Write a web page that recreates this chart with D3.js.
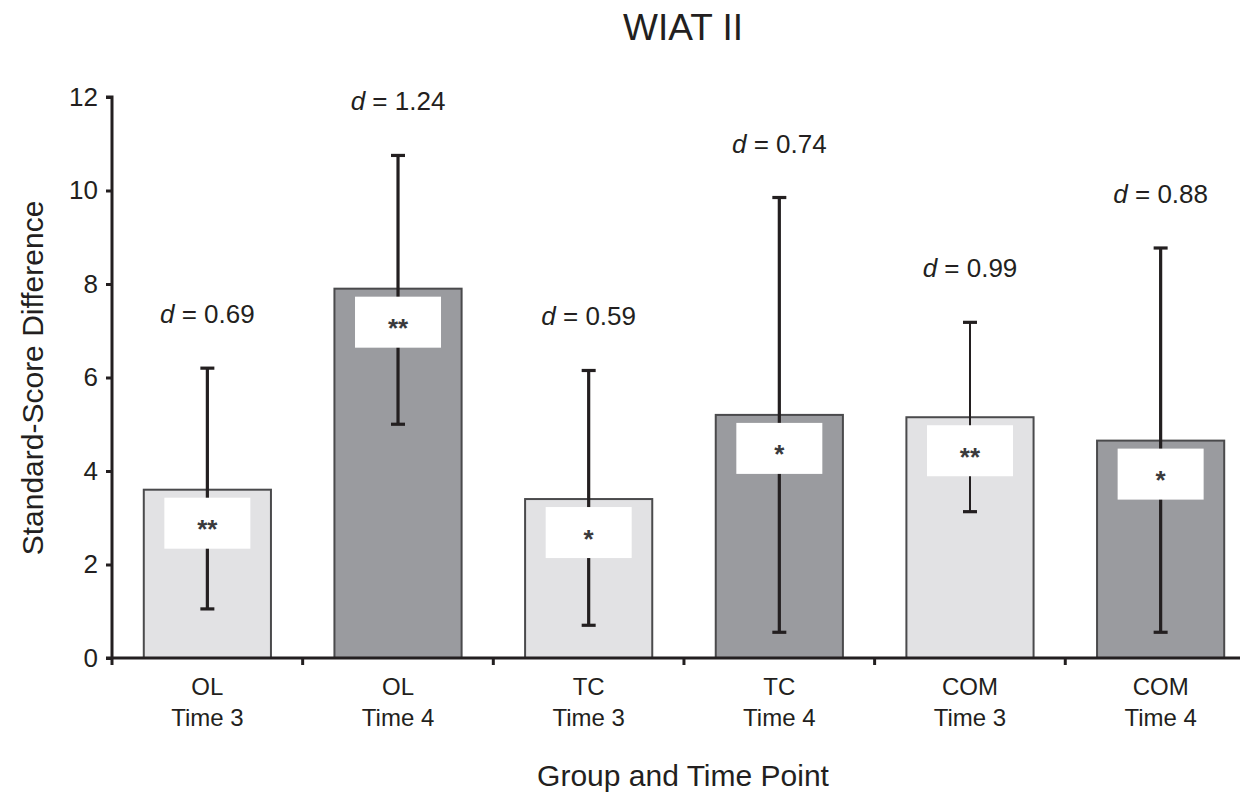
<!DOCTYPE html>
<html>
<head>
<meta charset="utf-8">
<script src="https://cdn.jsdelivr.net/npm/d3@7/dist/d3.min.js"></script>
<style>
  html, body { margin: 0; padding: 0; background: #fff; }
  svg { display: block; font-family: "Liberation Sans", Arial, sans-serif; }
</style>
</head>
<body>
<svg id="chart" width="1240" height="793"></svg>
<script>
// ---- data ----
const groups = ["OL", "OL", "TC", "TC", "COM", "COM"];
const times = ["Time 3", "Time 4", "Time 3", "Time 4", "Time 3", "Time 4"];
const means = [3.6, 7.9, 3.4, 5.2, 5.15, 4.65];
const errLow = [1.05, 5.0, 0.7, 0.55, 3.13, 0.55];
const errHigh = [6.2, 10.75, 6.15, 9.85, 7.18, 8.77];
const dValues = ["0.69", "1.24", "0.59", "0.74", "0.99", "0.88"];
const significance = ["**", "**", "*", "*", "**", "*"];
const yTicks = [0, 2, 4, 6, 8, 10, 12];

(function () {
const rows = means.map((m, i) => ({
  key: i, group: groups[i], time: times[i], mean: m,
  lo: errLow[i], hi: errHigh[i], d: dValues[i], sig: significance[i]
}));

// ---- layout ----
const svg = d3.select("#chart");
const plotLeft = 112, plotRight = 1256, plotTop = 97, plotBottom = 658;

const x = d3.scaleBand().domain(rows.map(r => r.key)).range([plotLeft, plotRight])
  .paddingInner(0.333).paddingOuter(0.1667);
const y = d3.scaleLinear().domain([0, 12]).range([plotBottom, plotTop]);

const ink = "#231f20";
const lightFill = "#e2e2e4", darkFill = "#9a9b9f";

// title
svg.append("text").attr("x", 683).attr("y", 40).attr("text-anchor", "middle")
  .attr("font-size", 37).attr("fill", ink).text("WIAT II");

// bars
const g = svg.append("g");
g.selectAll("rect.bar").data(rows).join("rect").attr("class", "bar")
  .attr("x", d => x(d.key)).attr("width", x.bandwidth())
  .attr("y", d => y(d.mean)).attr("height", d => y(0) - y(d.mean))
  .attr("fill", d => d.time === "Time 3" ? lightFill : darkFill)
  .attr("stroke", "#4a4a4c").attr("stroke-width", 2);

// error bars
const cx = d => x(d.key) + x.bandwidth() / 2;
const ew = d => d.key === 4 ? 2 : 3.2;
g.selectAll("line.err").data(rows).join("line").attr("class", "err")
  .attr("x1", cx).attr("x2", cx).attr("y1", d => y(d.lo)).attr("y2", d => y(d.hi))
  .attr("stroke", ink).attr("stroke-width", ew);
["lo", "hi"].forEach(k => {
  g.selectAll("line.cap" + k).data(rows).join("line").attr("class", "cap" + k)
    .attr("x1", d => cx(d) - 7).attr("x2", d => cx(d) + 7)
    .attr("y1", d => y(d[k])).attr("y2", d => y(d[k]))
    .attr("stroke", ink).attr("stroke-width", 3.2);
});

// white boxes with significance stars
const boxW = 86, boxH = 51;
g.selectAll("rect.box").data(rows).join("rect").attr("class", "box")
  .attr("x", d => cx(d) - boxW / 2).attr("y", d => y(d.mean) + 8)
  .attr("width", boxW).attr("height", boxH).attr("fill", "#fff");
g.selectAll("text.sig").data(rows).join("text").attr("class", "sig")
  .attr("x", cx).attr("y", d => y(d.mean) + 8 + boxH / 2 + 15)
  .attr("text-anchor", "middle").attr("font-size", 26).attr("font-weight", "bold")
  .attr("fill", "#3a3a3c").text(d => d.sig);

// effect size labels
const dl = g.selectAll("text.dlab").data(rows).join("text").attr("class", "dlab")
  .attr("x", cx).attr("y", d => y(d.hi) - 45)
  .attr("text-anchor", "middle").attr("font-size", 26).attr("fill", ink);
dl.append("tspan").attr("font-style", "italic").text("d");
dl.append("tspan").text(d => " = " + d.d);

// y axis
const yAxis = svg.append("g").attr("transform", `translate(${plotLeft},0)`)
  .call(d3.axisLeft(y).tickValues(yTicks).tickSize(6).tickPadding(8).tickFormat(d3.format("d")));
yAxis.select(".domain").attr("stroke", ink).attr("stroke-width", 3)
  .attr("d", `M0,${plotBottom}V${plotTop}H-6`);
yAxis.selectAll(".tick line").attr("stroke", ink).attr("stroke-width", 3);
yAxis.selectAll(".tick text").attr("font-size", 26).attr("fill", ink)
  .attr("font-family", "Liberation Sans, Arial, sans-serif");

// x axis
const boundaries = rows.map(r => x(r.key) - x.step() * x.paddingOuter());
const xAxisG = svg.append("g").attr("transform", `translate(0,${plotBottom})`);
xAxisG.append("line").attr("x1", plotLeft - 6).attr("x2", 1240)
  .attr("y1", 0).attr("y2", 0).attr("stroke", ink).attr("stroke-width", 3);
xAxisG.selectAll("line.xt").data(boundaries).join("line").attr("class", "xt")
  .attr("x1", d => d).attr("x2", d => d).attr("y1", 0).attr("y2", 7)
  .attr("stroke", ink).attr("stroke-width", 3);
const xl = xAxisG.selectAll("text.xl").data(rows).join("text").attr("class", "xl")
  .attr("x", cx).attr("text-anchor", "middle").attr("font-size", 24).attr("fill", ink);
xl.append("tspan").attr("x", cx).attr("y", 37).text(d => d.group);
xl.append("tspan").attr("x", cx).attr("y", 68).text(d => d.time);

// axis titles
svg.append("text").attr("x", 683).attr("y", 786).attr("text-anchor", "middle")
  .attr("font-size", 30).attr("fill", ink).text("Group and Time Point");
svg.append("text").attr("transform", "translate(43,378) rotate(-90)")
  .attr("text-anchor", "middle").attr("font-size", 30).attr("fill", ink)
  .text("Standard-Score Difference");
})();
</script>
</body>
</html>
